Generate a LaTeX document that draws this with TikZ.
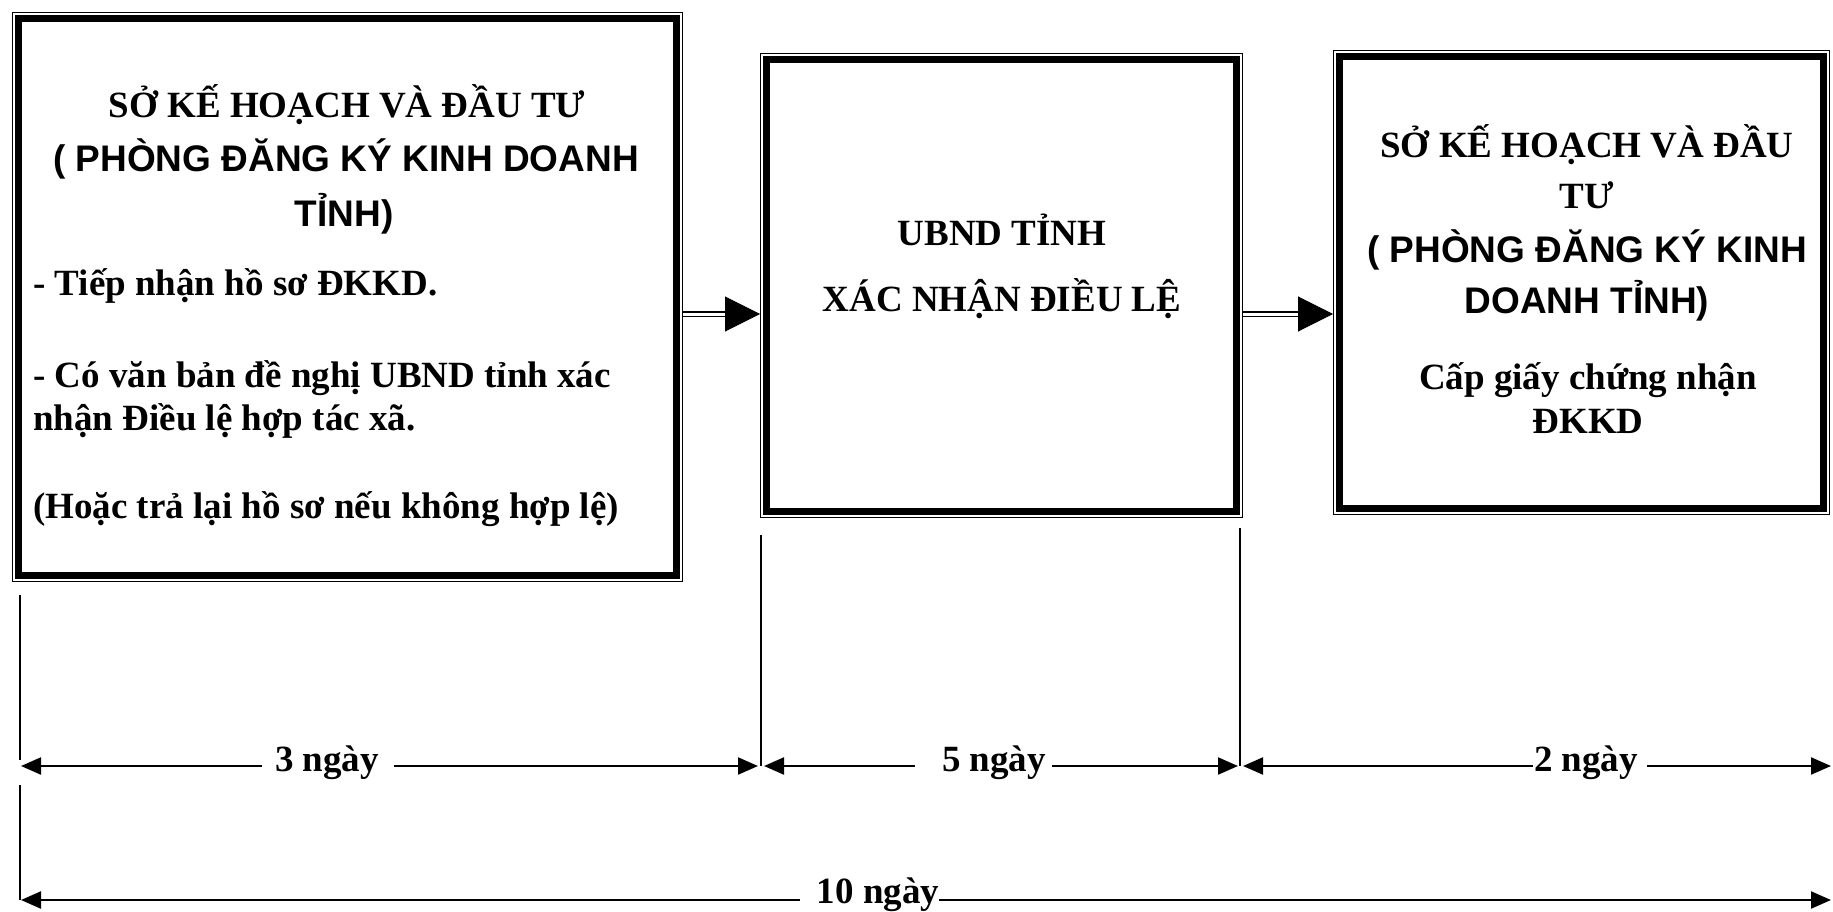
\documentclass[tikz,border=0pt]{standalone}
\usepackage{fontspec}
\setmainfont{Liberation Serif}
\newfontfamily\sansf{Liberation Sans}
\usetikzlibrary{arrows.meta}
\begin{document}
\begin{tikzpicture}[x=1pt,y=-1pt,
  box/.style={draw, line width=6.7pt, outer sep=6.3pt, inner sep=0pt},
  rim/.style={line width=1.3pt},
  serifl/.style={font=\fontsize{37}{44}\selectfont\bfseries, anchor=base, inner sep=0pt},
  sansl/.style={font=\fontsize{37}{44}\selectfont\sansf\bfseries, anchor=base, inner sep=0pt},
  shaft/.style={draw, line width=1.5pt, double distance=3pt},
  headst/.style={-{Triangle[length=35pt,width=35pt]}, line width=1pt},
  dim/.style={line width=2.2pt, -{Triangle[length=20pt,width=17pt]}},
  guide/.style={line width=1.8pt}
]
\useasboundingbox (0,0) rectangle (1833,912);
\fill[white] (0,0) rectangle (1833,912);

% boxes
\node[box, minimum width=658.4pt, minimum height=557.4pt] (b1) at (347.5,297) {};
\node[box, minimum width=470.4pt, minimum height=452.4pt] (b2) at (1001.5,285.5) {};
\node[box, minimum width=484.4pt, minimum height=452.4pt] (b3) at (1581.5,282.5) {};
\foreach \b in {b1,b2,b3}{
  \draw[rim] ([xshift=0.65pt,yshift=-0.65pt]\b.north west) rectangle ([xshift=-0.65pt,yshift=0.65pt]\b.south east);
}

% box 1 text
\node[serifl] (b1l1) at (347,118) {SỞ KẾ HOẠCH VÀ ĐẦU TƯ};
\node[sansl] (b1l2) at (346,172) {( PHÒNG ĐĂNG KÝ KINH DOANH};
\node[sansl] (b1l3) at (344,226) {TỈNH)};
\node[serifl, anchor=base west] (b1l4) at (33,295) {- Tiếp nhận hồ sơ ĐKKD.};
\node[serifl, anchor=base west] (b1l5) at (33,387) {- Có văn bản đề nghị UBND tỉnh xác};
\node[serifl, anchor=base west] (b1l6) at (33,430) {nhận Điều lệ hợp tác xã.};
\node[serifl, anchor=base west] (b1l7) at (33,518) {(Hoặc trả lại hồ sơ nếu không hợp lệ)};

% box 2 text
\node[serifl] (b2l1) at (1002,245) {UBND TỈNH};
\node[serifl] (b2l2) at (1002,311) {XÁC NHẬN ĐIỀU LỆ};

% box 3 text
\node[serifl] (b3l1) at (1587,158) {SỞ KẾ HOẠCH VÀ ĐẦU};
\node[serifl] (b3l2) at (1587,208) {TƯ};
\node[sansl] (b3l3) at (1587,262) {( PHÒNG ĐĂNG KÝ KINH};
\node[sansl] (b3l4) at (1587,313) {DOANH TỈNH)};
\node[serifl] (b3l5) at (1588,389) {Cấp giấy chứng nhận};
\node[serifl] (b3l6) at (1588,433) {ĐKKD};

% arrows between boxes
\coordinate (ay) at (0,314);
\coordinate (h1) at (725,314);
\coordinate (h2) at (1298,314);
\draw[shaft] (b1.east |- ay) -- (h1);
\draw[headst] (h1) -- (b2.west |- ay);
\draw[shaft] (b2.east |- ay) -- (h2);
\draw[headst] (h2) -- (b3.west |- ay);

% guide lines
\coordinate (g0a) at (20,595);
\coordinate (g0b) at (20,760);
\coordinate (g0c) at (20,785);
\coordinate (g0d) at (20,900);
\coordinate (g1a) at (761,535);
\coordinate (g1b) at (761,766);
\coordinate (g2a) at (1240,528);
\coordinate (g2b) at (1240,766);
\draw[guide] (g0a) -- (g0b);
\draw[guide] (g0c) -- (g0d);
\draw[guide] (g1a) -- (g1b);
\draw[guide] (g2a) -- (g2b);

% dimension tips
\coordinate (p0) at (21,766);
\coordinate (p1) at (758,766);
\coordinate (p2) at (764,766);
\coordinate (p3) at (1238,766);
\coordinate (p4) at (1243,766);
\coordinate (p5) at (1831,766);
\coordinate (q0) at (21,900);
\coordinate (q1) at (1831,900);

% labels
\node[serifl] (t3) at (327,771) {3 ngày};
\node[serifl] (t5) at (994,771) {5 ngày};
\node[serifl] (t2) at (1586,771) {2 ngày};
\node[serifl] (t10) at (878,903) {10 ngày};

\draw[dim] ([xshift=-13pt]t3.west |- p0) -- (p0);
\draw[dim] ([xshift=15pt]t3.east |- p1) -- (p1);
\draw[dim] ([xshift=-27pt]t5.west |- p2) -- (p2);
\draw[dim] ([xshift=6pt]t5.east |- p3) -- (p3);
\draw[dim] ([xshift=-1pt]t2.west |- p4) -- (p4);
\draw[dim] ([xshift=9pt]t2.east |- p5) -- (p5);
\draw[dim] ([xshift=-17pt]t10.west |- q0) -- (q0);
\draw[dim] (t10.east |- q1) -- (q1);
\end{tikzpicture}
\end{document}
